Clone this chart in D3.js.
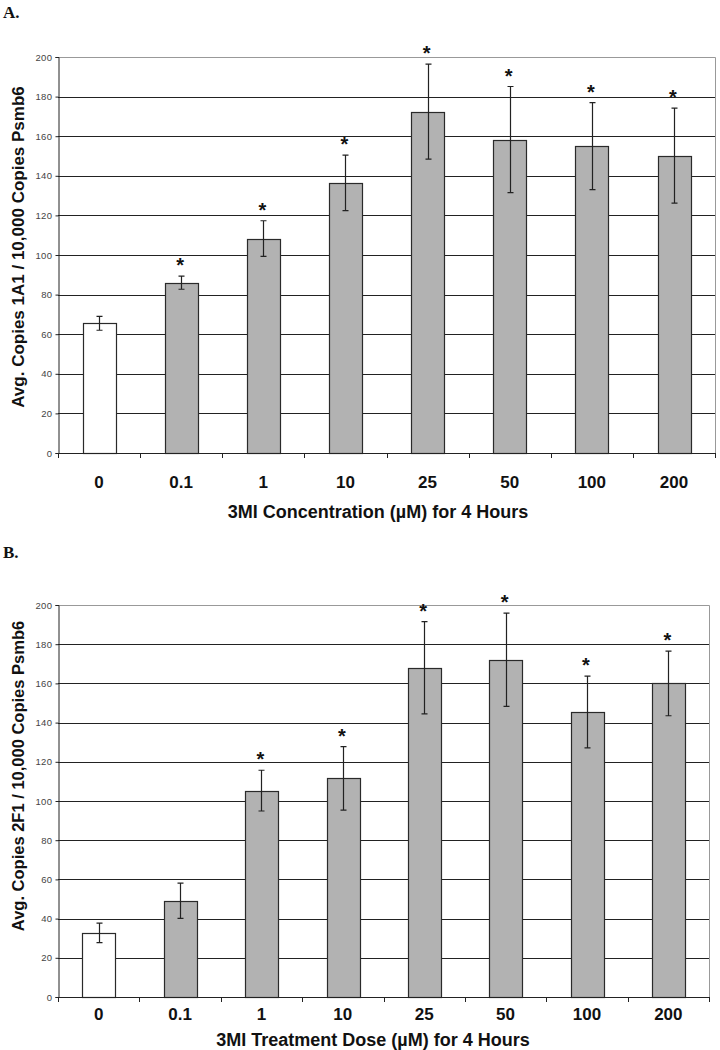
<!DOCTYPE html>
<html><head><meta charset="utf-8">
<script src="https://cdn.jsdelivr.net/npm/d3@7"></script>
<style>body{margin:0;background:#fff}svg{display:block}</style>
</head><body>
<svg id="c" width="720" height="1050"></svg>
<script>
const categories = ["0","0.1","1","10","25","50","100","200"];
const yTicks = [0,20,40,60,80,100,120,140,160,180,200];
const valuesA = [65.5,86,108.3,136.4,172.4,158.3,155,150.2];
const errorsA = [3.5,3.3,9,14,24,26.8,22,24];
const sigA = [false,true,true,true,true,true,true,true];
const valuesB = [32.7,49.1,105.3,111.5,168,172.1,145.4,160];
const errorsB = [5,9,10.4,16.2,23.5,23.8,18.3,16.5];
const sigB = [false,false,true,true,true,true,true,true];
const panelLabels = ["A.","B."];
const yTitles = ["Avg. Copies 1A1 / 10,000 Copies Psmb6","Avg. Copies 2F1 / 10,000 Copies Psmb6"];
const xTitles = ["3MI Concentration (\u00B5M) for 4 Hours","3MI Treatment Dose (\u00B5M) for 4 Hours"];

const svg = d3.select("#c");
const SANS = "'Liberation Sans', Arial, sans-serif";

function panel(o){
  const g = svg.append("g");
  const x = d3.scaleBand().domain(categories).range([o.left,o.right]).padding(0);
  const y = d3.scaleLinear().domain([0,200]).range([o.bottom,o.top]);
  const bw = x.bandwidth()*0.4;
  const rows = categories.map((c,i)=>({c, v:o.values[i], e:o.errors[i], s:o.sig[i], i}));
  const cx = r => x(r.c)+x.bandwidth()/2;

  g.append("text").attr("x",3).attr("y",o.labelY).text(o.label)
    .attr("font-family","'Liberation Serif', 'Times New Roman', serif")
    .attr("font-weight","bold").attr("font-size",17).attr("fill","#111");

  g.selectAll("line.grid").data(yTicks.filter(t=>t>0 && t<200)).join("line")
    .attr("x1",o.left).attr("x2",o.right)
    .attr("y1",d=>Math.round(y(d))+0.5).attr("y2",d=>Math.round(y(d))+0.5)
    .attr("stroke","#222").attr("stroke-width",1);
  g.append("path")
    .attr("d",`M${o.left},${Math.round(y(200))+0.5}H${Math.round(o.right)+0.5}V${o.bottom}`)
    .attr("fill","none").attr("stroke","#999").attr("stroke-width",1);

  const ya = d3.axisLeft(y).tickValues(yTicks).tickSize(3).tickPadding(3);
  const yg = g.append("g").attr("transform",`translate(${Math.round(o.left)+0.5},0)`).call(ya);
  yg.select(".domain").attr("stroke","#222");
  yg.selectAll(".tick line").attr("stroke","#222");
  yg.selectAll(".tick text").attr("font-family",SANS).attr("font-size",9.5)
    .attr("letter-spacing",0.4).attr("fill","#444");

  g.selectAll("rect.bar").data(rows).join("rect")
    .attr("x",r=>Math.round(cx(r)-bw/2)+0.5)
    .attr("width",Math.round(bw))
    .attr("y",r=>Math.round(y(r.v))+0.5)
    .attr("height",r=>Math.round(o.bottom)-Math.round(y(r.v)))
    .attr("fill",r=>r.i===0?"#ffffff":"#b2b2b2")
    .attr("stroke","#2a2a2a").attr("stroke-width",1.2);

  g.selectAll("path.err").data(rows).join("path")
    .attr("d",r=>{
      const px = Math.round(cx(r))+0.5;
      const t = y(r.v+r.e), b = y(r.v-r.e);
      return `M${px},${t}V${b}M${px-3},${t}H${px+3}M${px-3},${b}H${px+3}`;
    }).attr("stroke","#222").attr("stroke-width",1.2).attr("fill","none");

  g.selectAll("text.sig").data(rows.filter(r=>r.s)).join("text")
    .attr("x",r=>cx(r)-1)
    .attr("y",r=>y(r.v+r.e)-4)
    .attr("text-anchor","middle").attr("font-family",SANS)
    .attr("font-weight","bold").attr("font-size",20).attr("fill","#111").text("*");

  const xg = g.append("g");
  xg.append("line").attr("x1",o.left).attr("x2",o.right+0.5)
    .attr("y1",Math.round(o.bottom)+0.5).attr("y2",Math.round(o.bottom)+0.5)
    .attr("stroke","#222");
  const bounds = categories.map(c=>x(c)).concat([o.right]);
  xg.selectAll("line.t").data(bounds).join("line")
    .attr("x1",d=>Math.round(d)+0.5).attr("x2",d=>Math.round(d)+0.5)
    .attr("y1",Math.round(o.bottom)).attr("y2",Math.round(o.bottom)+5)
    .attr("stroke","#222");
  xg.selectAll("text.xl").data(categories).join("text")
    .attr("x",d=>x(d)+x.bandwidth()/2).attr("y",o.xLabelY)
    .attr("text-anchor","middle").attr("font-family",SANS).attr("font-weight","bold")
    .attr("font-size",17).attr("fill","#111").text(d=>d);

  g.append("text").attr("x",o.xTitleX).attr("y",o.xTitleY).attr("text-anchor","middle")
    .attr("font-family",SANS).attr("font-weight","bold").attr("font-size",18).attr("fill","#111")
    .text(o.xTitle);
  g.append("text").attr("transform",`translate(${o.yTitleX},${o.yTitleY}) rotate(-90)`)
    .attr("text-anchor","middle").attr("font-family",SANS).attr("font-weight","bold")
    .attr("font-size",o.yTitleSize).attr("fill","#111").text(o.yTitle);
}

panel({left:58,right:715,top:57,bottom:453,values:valuesA,errors:errorsA,sig:sigA,
  label:panelLabels[0],labelY:18,xLabelY:488,xTitle:xTitles[0],xTitleX:378,xTitleY:518,
  yTitle:yTitles[0],yTitleX:24,yTitleY:247,yTitleSize:17});
panel({left:58,right:709,top:605,bottom:997,values:valuesB,errors:errorsB,sig:sigB,
  label:panelLabels[1],labelY:558,xLabelY:1020,xTitle:xTitles[1],xTitleX:373,xTitleY:1046,
  yTitle:yTitles[1],yTitleX:24,yTitleY:776,yTitleSize:16.5});
</script>
</body></html>
